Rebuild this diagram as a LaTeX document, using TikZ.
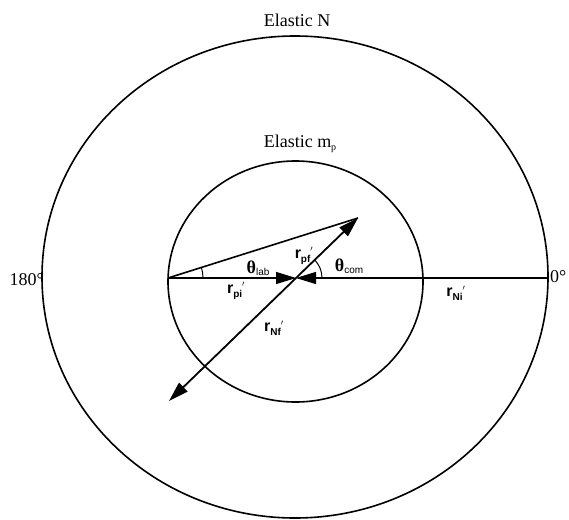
\documentclass[tikz,border=0pt]{standalone}
\usepackage{fontspec}
\setmainfont{Liberation Serif}
\newfontfamily\hel{Liberation Sans}
\usetikzlibrary{arrows.meta}
\tikzset{
  ring/.style={line width=1.6pt},
  vec/.style={line width=1.8pt, -{Triangle[length=20pt,width=12pt]}},
  thin line/.style={line width=1.2pt},
  anglearc/.style={line width=1pt},
  lbl/.style={inner sep=0pt},
  title/.style={inner sep=0pt, font=\fontsize{18}{20}\selectfont},
}
\newcommand{\rvec}[1]{{\hel\bfseries\fontsize{16}{18}\selectfont r\raisebox{-0.45ex}{\fontsize{10}{10}\selectfont #1}}\raisebox{0.5ex}{\fontsize{12}{12}\selectfont$'$}}
\newcommand{\thsub}[1]{{\bfseries\fontsize{18}{20}\selectfont θ}\raisebox{-0.5ex}{\hel\fontsize{10}{10}\selectfont #1}}
\begin{document}
\begin{tikzpicture}[x=1pt,y=1pt]
\useasboundingbox (0,0) rectangle (569,-519);
% coordinates
\coordinate (O) at (296,-278);
\coordinate (A) at (168,-278);
\coordinate (R) at (548,-278);
\coordinate (P) at (358,-218);
\coordinate (N) at (169,-401);
% circles
\draw[ring] (295,-277) ellipse [x radius=253pt, y radius=241pt];
\draw[ring] (295.5,-281.5) ellipse [x radius=127.5pt, y radius=120.5pt];
% horizontal axis pieces with arrows
\draw[thin line, -{Triangle[length=20pt,width=12pt]}] (A) -- (O);
\draw[thin line, -{Triangle[length=20pt,width=12pt]}] (R) -- (O);
% lab vector
\draw[line width=1.6pt] (A) -- (P);
% diagonal CM vectors
\draw[vec] (O) -- (P);
\draw[vec] (O) -- (N);
% angle arcs
\draw[anglearc] ([xshift=35pt]A) arc[start angle=0, end angle=17.5, radius=35pt];
\draw[anglearc] ([xshift=26pt]O) arc[start angle=0, end angle=44, radius=26pt];
% labels
\node[title] (tN) at (297,-20) {Elastic N};
\node[title] (tm) at (300,-144) {Elastic m\raisebox{-0.4ex}{\fontsize{10}{10}\selectfont p}};
\node[title, anchor=east] (t180) at (44,-280) {180°};
\node[title, anchor=west] (t0) at (550,-277) {0°};
\node[lbl] (thlab) at (258,-268) {\thsub{lab}};
\node[lbl] (thcom) at (349,-266) {\thsub{com}};
\node[lbl] (rpf) at (304,-256) {\rvec{pf}};
\node[lbl] (rpi) at (236,-291) {\rvec{pi}};
\node[lbl] (rNf) at (274,-328) {\rvec{Nf}};
\node[lbl] (rNi) at (456,-293) {\rvec{Ni}};
\end{tikzpicture}
\end{document}
